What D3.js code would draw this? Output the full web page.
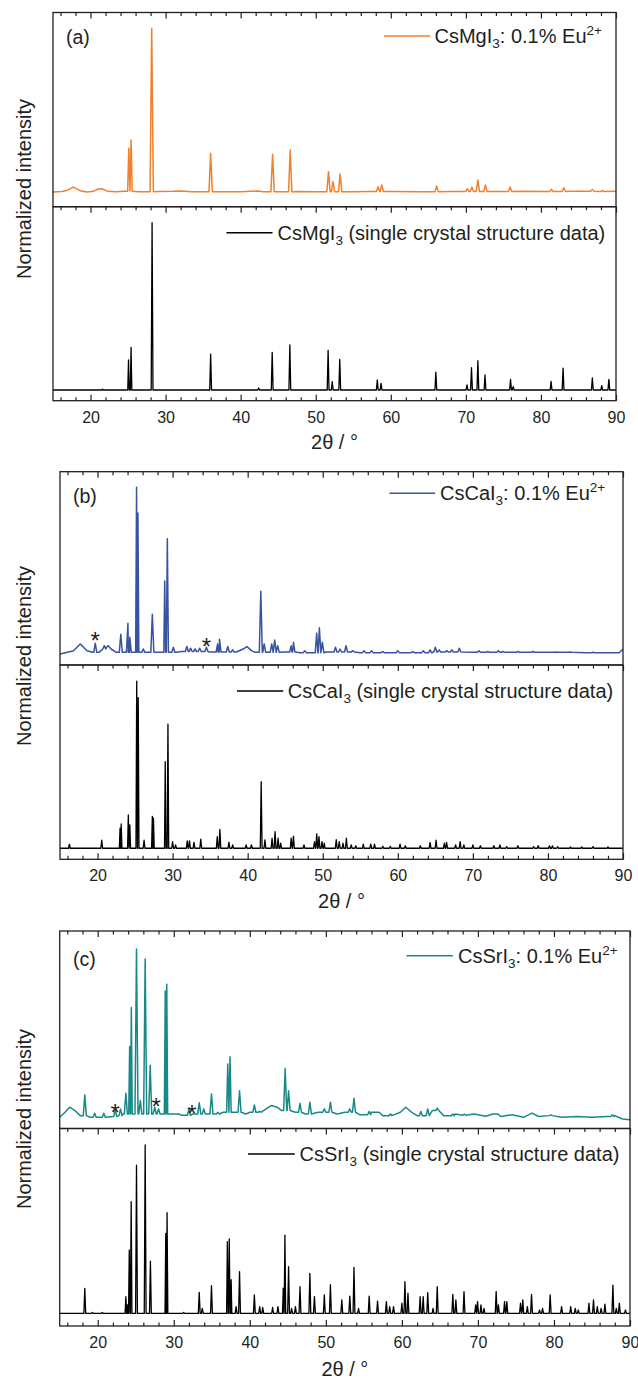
<!DOCTYPE html>
<html>
<head>
<meta charset="utf-8">
<script src="https://cdn.jsdelivr.net/npm/d3@7"></script>
<style>
  body { margin: 0; background: #fff; }
  svg text { font-family: "Liberation Sans", Arial, sans-serif; fill: #231f20; white-space: pre; }
</style>
</head>
<body>
<svg id="chart" width="638" height="1382"></svg>
<script>
// x axis ticks (2theta, degrees)
const majorTicks = [20, 30, 40, 50, 60, 70, 80, 90];
const minorTicks = d3.range(16, 90, 2).filter(t => t % 10 !== 0);

// ---- (a) CsMgI3 ----
// baseline / broad humps [2theta, normalized intensity]
const mgExpBase = [[15,0],[16.2,0.003],[16.9,0.01],[17.7,0.03],[18.6,0.008],[19.5,0],[20.4,0.004],[21.0,0.018],[21.5,0.02],
  [22.3,0.004],[23.5,0.002],[24.4,0.004],[26.5,0.002],[27.5,0.002],[29,0.003],[31,0.004],[32,0.006],[33.5,0.002],[40,0.002],
  [42.3,0.006],[43,0.002],[48,0.003],[50,0.002],[55,0.002],[57,0.003],[60,0.003],[64,0.002],[68,0.003],[74,0.003],[78,0.004],
  [80,0.003],[84,0.004],[86,0.004],[88,0.003],[90,0.005]];
// peaks [2theta, peak top, optional half width]
const mgExpPeaks = [[25.1,0.267,0.15],[25.4,0.318,0.15],[28.15,1.0],[36.0,0.236],[44.25,0.23],[46.6,0.257],[51.7,0.124],
  [52.3,0.063],[53.25,0.11],[58.3,0.032],[58.8,0.043],[66.1,0.037],[70.2,0.02],[70.8,0.03],[71.6,0.073],[72.6,0.043],
  [75.9,0.03],[81.4,0.016],[83.05,0.025],[86.85,0.016],[88.2,0.008]];
const mgSimBase = [[15,0],[90,0]];
const mgSimPeaks = [[21.6,0.005],[25.06,0.18,0.1],[25.4,0.255,0.1],[28.2,1.0],[36.0,0.215],[42.4,0.012],[44.2,0.225],
  [46.55,0.27],[51.65,0.237],[52.2,0.05],[53.2,0.183],[58.2,0.06],[58.7,0.04],[66.0,0.106],[70.15,0.03],[70.75,0.133],
  [71.6,0.175],[72.55,0.09],[75.95,0.064],[76.3,0.02],[81.35,0.052],[82.95,0.13],[86.85,0.073],[88.1,0.026],[89.05,0.064]];

// ---- (b) CsCaI3 ----
const caExpBase = [[15,0],[16,0.01],[16.8,0.02],[17.7,0.06],[18.6,0.02],[19.3,0.01],[20.2,0.01],[20.7,0.03],[21.2,0.04],
  [21.8,0.03],[22.5,0.01],[23.5,0.01],[26.5,0.01],[28,0.01],[30.5,0.01],[31.2,0.015],[33,0.015],[35,0.012],[38.5,0.012],
  [39.4,0.03],[39.9,0.045],[40.5,0.02],[41,0.01],[45,0.012],[47,0.008],[50.5,0.012],[55,0.008],[60,0.008],[65,0.012],
  [70,0.01],[75,0.01],[80,0.01],[85,0.008],[89.5,0.008],[90,0.03]];
const caExpPeaks = [[19.7,0.064],[20.9,0.05],[21.4,0.05],[23.1,0.118],[24.05,0.184],[24.3,0.1],[25.2,1.0,0.12],[25.38,0.846,0.12],
  [26.1,0.03],[27.3,0.238],[28.95,0.438,0.12],[29.3,0.692,0.14],[30.1,0.04],[31.9,0.045],[32.4,0.035],[33.0,0.03],[33.6,0.035],
  [34.5,0.04],[36.0,0.06],[36.25,0.088],[37.35,0.045],[38,0.025],[41.75,0.376],[42.2,0.06],[43.2,0.06],[43.6,0.084],[44.0,0.05],
  [45.8,0.05],[46.1,0.07],[47.6,0.02],[49.2,0.125],[49.55,0.158],[49.95,0.07],[51.7,0.04],[52.3,0.03],[53.1,0.05],[54,0.02],
  [55.5,0.02],[56.5,0.02],[58,0.015],[60,0.02],[62,0.015],[63.4,0.02],[64.3,0.025],[65.0,0.04],[65.5,0.025],[66.5,0.02],
  [67.2,0.025],[68.2,0.035],[70.8,0.02],[72,0.015],[73.4,0.02],[74,0.015],[76,0.015],[78,0.015],[81,0.012],[83,0.012],[86,0.01]];
const caSimBase = [[15,0],[90,0]];
const caSimPeaks = [[16.25,0.024],[20.56,0.048],[23.0,0.12,0.1],[23.15,0.145,0.1],[24.1,0.199,0.1],[24.3,0.14,0.1],
  [25.22,1.0,0.1],[25.42,0.9,0.1],[26.2,0.048],[27.3,0.191,0.1],[27.45,0.18,0.1],[29.02,0.518,0.1],[29.38,0.743,0.1],
  [30.0,0.04],[30.4,0.02],[31.95,0.044],[32.25,0.044],[32.85,0.035],[33.75,0.054],[35.95,0.07],[36.3,0.113],[37.5,0.036],
  [38.0,0.02],[39.8,0.02],[40.5,0.02],[41.8,0.398],[42.3,0.05],[43.25,0.06],[43.65,0.1],[44.05,0.06],[44.4,0.03],[45.8,0.06],
  [46.1,0.072],[47.5,0.02],[48.9,0.04],[49.2,0.086],[49.5,0.07],[49.9,0.04],[50.2,0.03],[51.8,0.052],[52.2,0.04],[52.7,0.03],
  [53.15,0.06],[53.8,0.02],[54.4,0.015],[55.4,0.025],[56.4,0.025],[56.9,0.025],[58.0,0.012],[59.0,0.012],[60.3,0.025],
  [61.0,0.015],[63.0,0.015],[64.3,0.035],[65.1,0.048],[66.2,0.03],[66.5,0.035],[67.7,0.02],[68.3,0.04],[68.8,0.02],[70.0,0.02],
  [71.0,0.015],[72.8,0.015],[73.6,0.02],[74.5,0.01],[76.0,0.015],[78.1,0.01],[78.7,0.015],[80.2,0.015],[80.6,0.015],
  [81.3,0.01],[83.0,0.008],[84.5,0.008],[86.0,0.01],[88.0,0.008]];
const caStars = [[19.7, 0.108], [34.5, 0.072]];

// ---- (c) CsSrI3 ----
const srExpBase = [[15,0],[15.7,0.03],[16.3,0.06],[17,0.04],[17.7,0.01],[19,0],[21,0.005],[22.8,0.01],[23.3,0.02],[30,0.02],
  [31,0.012],[32.5,0.02],[35.8,0.02],[36.5,0.03],[39.5,0.02],[40,0.03],[41.8,0.04],[42.8,0.07],[43.6,0.06],[44.2,0.04],
  [46,0.03],[47.3,0.02],[49,0.03],[51.5,0.02],[52.5,0.03],[54.5,0.015],[56,0.03],[57.5,0.01],[59.8,0.03],[60.5,0.06],
  [61.3,0.03],[62,0.01],[64,0.04],[65.5,0.01],[67,0.02],[68,0.012],[69.5,0.02],[71,0.006],[72,0.02],[73,0.005],[74.5,0.015],
  [76,0],[77.1,0.025],[78,0.005],[79.5,0.01],[81,0],[83,0.005],[85,0],[87,0.005],[88,0.01],[89,-0.01],[90,-0.015]];
const srExpPeaks = [[18.3,0.133],[19.6,0.024],[20.8,0.024],[22.3,0.044],[23.0,0.05],[23.7,0.143],[24.2,0.42,0.12],
  [24.42,0.653,0.12],[25.1,1.0],[25.6,0.1],[26.24,0.94],[26.9,0.31],[27.5,0.06],[28.0,0.05],[28.88,0.75,0.12],[29.08,0.79,0.12],
  [30.5,0.02],[32.0,0.05],[33.35,0.087],[33.95,0.05],[34.96,0.139],[35.8,0.03],[37.1,0.317,0.15],[37.4,0.36,0.15],[38.65,0.158],
  [40.6,0.073],[41.3,0.035],[44.65,0.29],[45.1,0.158],[46.6,0.083],[47.9,0.09],[49.8,0.05],[50.6,0.09],[53.15,0.05],
  [53.7,0.113],[55.7,0.035],[56.8,0.03],[58.5,0.02],[62.5,0.035],[63.4,0.05],[64.65,0.055],[66.7,0.02],[68.2,0.02],
  [72.4,0.02],[79.6,0.015],[87.7,0.015]];
const srSimBase = [[15,0],[90,0]];
const srSimPeaks = [[18.3,0.149],[19.3,0.006],[20.6,0.006],[23.7,0.1,0.1],[23.9,0.05,0.08],[24.15,0.376,0.1],[24.4,0.663,0.1],
  [25.1,0.88],[26.24,1.0],[26.93,0.31],[28.95,0.475,0.1],[29.12,0.598,0.1],[31.3,0.006],[33.35,0.125],[33.75,0.03],
  [34.96,0.164],[37.05,0.426,0.1],[37.3,0.442,0.1],[37.55,0.2,0.08],[38.2,0.04],[38.65,0.248],[40.6,0.109],[41.3,0.04],
  [41.7,0.035],[43.0,0.035],[43.7,0.04],[44.4,0.15,0.1],[44.62,0.465,0.1],[45.1,0.277],[45.5,0.03],[46.0,0.04],[46.6,0.158],
  [47.9,0.238],[48.5,0.1],[49.8,0.109],[50.6,0.17],[52.1,0.08],[53.15,0.103],[53.7,0.273],[54.3,0.03],[55.7,0.103],
  [56.8,0.073],[57.96,0.07],[58.4,0.04],[58.9,0.04],[60.0,0.06],[60.4,0.188],[60.8,0.12],[62.4,0.1],[62.8,0.1],[63.4,0.123],
  [64.1,0.03],[64.65,0.158],[66.7,0.113],[67.1,0.08],[68.17,0.129],[69.7,0.05],[69.95,0.07],[70.4,0.05],[70.8,0.03],
  [72.4,0.13],[72.7,0.05],[73.5,0.07],[73.8,0.07],[75.6,0.06],[75.9,0.08],[76.5,0.04],[77.05,0.113],[78.1,0.02],[78.5,0.03],
  [79.5,0.11],[81.0,0.04],[82.2,0.04],[82.8,0.03],[83.2,0.02],[84.6,0.06],[85.2,0.08],[85.7,0.04],[86.2,0.03],[86.7,0.055],
  [87.75,0.168],[88.2,0.03],[88.6,0.06],[89.4,0.02]];
const srStars = [[22.3, 0.055], [27.7, 0.088], [32.4, 0.05]];

// legend texts: [text, "sub" | "sup"]
const mgExpLabel = [["CsMgI"], ["3", "sub"], [": 0.1% Eu"], ["2+", "sup"]];
const mgSimLabel = [["CsMgI"], ["3", "sub"], [" (single crystal structure data)"]];
const caExpLabel = [["CsCaI"], ["3", "sub"], [": 0.1% Eu"], ["2+", "sup"]];
const caSimLabel = [["CsCaI"], ["3", "sub"], [" (single crystal structure data)"]];
const srExpLabel = [["CsSrI"], ["3", "sub"], [": 0.1% Eu"], ["2+", "sup"]];
const srSimLabel = [["CsSrI"], ["3", "sub"], [" (single crystal structure data)"]];

const panels = [
  { tag: "(a)", color: "#f1802d", x0: 53, x1: 616, top: 12.5, mid: 206.7, bottom: 400.7,
    upDom: [-0.09, 1.097], loDom: [-0.064, 1.096],
    exp: [mgExpBase, mgExpPeaks, 0.22], sim: [mgSimBase, mgSimPeaks, 0.12], stars: [],
    expLeg: { x0: 384, x1: 430, y: 36, tx: 434.5, label: mgExpLabel },
    simLeg: { x0: 226.5, x1: 272.5, y: 232.7, tx: 277.6, label: mgSimLabel },
    tagPos: [66, 43.5], yTitle: [30.5, 189], xTitleY: 449 },
  { tag: "(b)", color: "#3953a3", x0: 60, x1: 623, top: 471.7, mid: 665, bottom: 859.3,
    upDom: [-0.066, 1.094], loDom: [-0.066, 1.096],
    exp: [caExpBase, caExpPeaks, 0.2], sim: [caSimBase, caSimPeaks, 0.12], stars: caStars,
    expLeg: { x0: 389.5, x1: 435, y: 493.3, tx: 440, label: caExpLabel },
    simLeg: { x0: 237, x1: 283.3, y: 691, tx: 287.8, label: caSimLabel },
    tagPos: [73, 503], yTitle: [30.5, 656], xTitleY: 908 },
  { tag: "(c)", color: "#178a87", x0: 59.7, x1: 630, top: 931, mid: 1128.5, bottom: 1326,
    upDom: [-0.0665, 1.107], loDom: [-0.075, 1.098],
    exp: [srExpBase, srExpPeaks, 0.2], sim: [srSimBase, srSimPeaks, 0.12], stars: srStars,
    expLeg: { x0: 406.5, x1: 453, y: 955.7, tx: 458, label: srExpLabel },
    simLeg: { x0: 248, x1: 294.7, y: 1154, tx: 299.6, label: srSimLabel },
    tagPos: [73, 966], yTitle: [30.5, 1119], xTitleY: 1376 }
];

const svg = d3.select("#chart");

// baseline points plus a narrow triangle for every peak, feet on the last baseline level
function profile(base, peaks, hw) {
  const pts = base.filter(b => !peaks.some(p => Math.abs(b[0] - p[0]) <= (p[2] || hw)));
  peaks.forEach(p => {
    const w = p[2] || hw;
    let floor = base[0][1];
    base.forEach(b => { if (b[0] <= p[0]) floor = b[1]; });
    pts.push([p[0] - w, floor], [p[0], p[1]], [p[0] + w, floor]);
  });
  return pts.map((d, i) => [d[0], d[1], i]).sort((a, b) => a[0] - b[0] || a[2] - b[2]);
}

function legendText(g, x, y, parts) {
  const t = g.append("text").attr("x", x).attr("y", y).style("font-size", "20px");
  let shift = 0;
  parts.forEach(([s, kind]) => {
    const target = kind === "sub" ? 5 : kind === "sup" ? -8 : 0;
    t.append("tspan").attr("dy", target - shift)
      .style("font-size", kind ? "13.5px" : "20px").text(s);
    shift = target;
  });
}

function tickAxis(g, axisFn, x, y, len, values, labels) {
  const ax = axisFn(x).tickValues(values).tickSizeInner(-len).tickSizeOuter(0)
    .tickFormat(labels ? d3.format("d") : "").tickPadding(10.5);
  const sel = g.append("g").attr("transform", `translate(0,${y})`).call(ax);
  sel.select(".domain").remove();
  sel.selectAll("line").attr("stroke", "#231f20").attr("stroke-width", 1.2);
  sel.selectAll("text").attr("font-family", null).style("font-size", "16px").attr("fill", "#231f20");
}

panels.forEach(p => {
  const g = svg.append("g");
  const x = d3.scaleLinear().domain([15, 90]).range([p.x0, p.x1]);
  const yUp = d3.scaleLinear().domain(p.upDom).range([p.mid, p.top]);
  const yLo = d3.scaleLinear().domain(p.loDom).range([p.bottom, p.mid]);

  const clipId = "clip" + p.tag.replace(/\W/g, "");
  svg.append("clipPath").attr("id", clipId)
    .append("rect").attr("x", p.x0).attr("y", p.top).attr("width", p.x1 - p.x0).attr("height", p.bottom - p.top);

  const lineUp = d3.line().x(d => x(d[0])).y(d => yUp(d[1]));
  const lineLo = d3.line().x(d => x(d[0])).y(d => yLo(d[1]));

  g.append("path").datum(profile(...p.exp)).attr("clip-path", `url(#${clipId})`)
    .attr("d", lineUp).attr("fill", "none").attr("stroke", p.color)
    .attr("stroke-width", 1.5).attr("stroke-linejoin", "round");
  g.append("path").datum(profile(...p.sim)).attr("clip-path", `url(#${clipId})`)
    .attr("d", lineLo).attr("fill", "none").attr("stroke", "#000")
    .attr("stroke-width", 1.3).attr("stroke-linejoin", "round");

  g.selectAll("text.star").data(p.stars).enter().append("text")
    .attr("class", "star")
    .attr("x", d => x(d[0])).attr("y", d => yUp(d[1]) + 13)
    .attr("text-anchor", "middle").style("font-size", "24px").text("*");

  // frames
  [[p.top, p.mid], [p.mid, p.bottom]].forEach(([t, b]) => {
    g.append("rect").attr("x", p.x0).attr("y", t).attr("width", p.x1 - p.x0).attr("height", b - t)
      .attr("fill", "none").attr("stroke", "#231f20").attr("stroke-width", 1.3);
  });

  // inward ticks: top of upper plot, top and bottom of lower plot
  tickAxis(g, d3.axisTop, x, p.top, 6, majorTicks, false);
  tickAxis(g, d3.axisTop, x, p.top, 3.5, minorTicks, false);
  tickAxis(g, d3.axisTop, x, p.mid, 6, majorTicks, false);
  tickAxis(g, d3.axisTop, x, p.mid, 3.5, minorTicks, false);
  tickAxis(g, d3.axisBottom, x, p.bottom, 6, majorTicks, true);
  tickAxis(g, d3.axisBottom, x, p.bottom, 3.5, minorTicks, false);

  // legends
  [[p.expLeg, p.color], [p.simLeg, "#000"]].forEach(([l, c]) => {
    g.append("line").attr("x1", l.x0).attr("x2", l.x1).attr("y1", l.y).attr("y2", l.y)
      .attr("stroke", c).attr("stroke-width", 1.5);
    legendText(g, l.tx, l.y + 7, l.label);
  });

  g.append("text").attr("x", p.tagPos[0]).attr("y", p.tagPos[1])
    .style("font-size", "19.5px").text(p.tag);

  g.append("text")
    .attr("transform", `translate(${p.yTitle[0]},${p.yTitle[1]}) rotate(-90)`)
    .attr("text-anchor", "middle").style("font-size", "20px")
    .text("Normalized intensity");

  g.append("text").attr("x", (p.x0 + p.x1) / 2).attr("y", p.xTitleY)
    .attr("text-anchor", "middle").style("font-size", "20px")
    .text("2\u03b8 / \u00b0");
});
</script>
</body>
</html>
